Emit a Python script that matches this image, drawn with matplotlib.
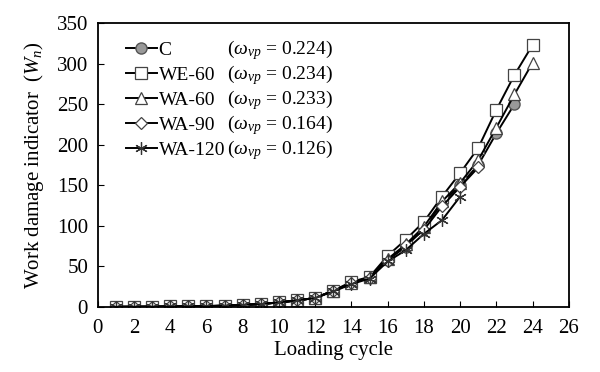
from matplotlib import pyplot as plt
import numpy as np

plt.rcParams['font.family'] = ['Liberation Serif', 'DejaVu Serif']
plt.rcParams['mathtext.fontset'] = 'custom'
plt.rcParams['mathtext.rm'] = 'Liberation Serif'
plt.rcParams['mathtext.it'] = 'Liberation Serif:italic'

# loading cycles per specimen
cycles_c = np.arange(1, 24)
cycles_we60 = np.arange(1, 25)
cycles_wa60 = np.arange(1, 25)
cycles_wa90 = np.arange(1, 22)
cycles_wa120 = np.arange(1, 21)

early = [0.1, 0.2, 0.3, 0.5, 0.7, 1.0, 1.5, 2.5, 3.5, 5.5, 8.0, 11.0]

wn_c = early + [20, 29, 37, 58, 74, 97, 128, 150, 175, 214, 250]
wn_we60 = early + [20, 31, 37, 63, 83, 105, 136, 165, 196, 243, 286, 323]
wn_wa60 = early + [20, 29, 37, 59, 77, 99, 130, 153, 181, 221, 262, 301]
wn_wa90 = early + [20, 29, 36, 57, 76, 95, 124, 148, 172]
wn_wa120 = early + [19, 28, 35, 56, 70, 90, 107, 136]

names = ['C', 'WE-60', 'WA-60', 'WA-90', 'WA-120']
omega = ['0.224', '0.234', '0.233', '0.164', '0.126']

fig = plt.figure(figsize=(6, 3.72), dpi=100)
ax = fig.add_axes([0.163, 0.175, 0.785, 0.763])

lw = 1.4
h1, = ax.plot(cycles_c, wn_c, color='black', lw=lw, marker='o', ms=8,
              mfc='#999999', mec='#555555')
h2, = ax.plot(cycles_we60, wn_we60, color='black', lw=lw, marker='s', ms=8.5,
              mfc='white', mec='#444444', mew=0.9)
h3, = ax.plot(cycles_wa60, wn_wa60, color='black', lw=lw, marker='^', ms=9,
              mfc='white', mec='#444444', mew=0.9)
h4, = ax.plot(cycles_wa90, wn_wa90, color='black', lw=lw, marker='D', ms=6.5,
              mfc='white', mec='#444444', mew=0.9)
h5, = ax.plot(cycles_wa120, wn_wa120, color='black', lw=lw, marker=(6, 2, 0), ms=9,
              mec='#333333', mew=0.9)

ax.set_xlim(0, 26)
ax.set_ylim(0, 350)
ax.set_xticks(np.arange(0, 27, 2))
ax.set_yticks(np.arange(0, 351, 50))
ax.tick_params(direction='in', labelsize=15, length=4)
ax.tick_params(axis='x', pad=9)
ax.tick_params(axis='y', pad=7)
for s in ax.spines.values():
    s.set_linewidth(1.3)

ax.set_xlabel('Loading cycle', fontsize=15, labelpad=2)
ax.set_ylabel('Work damage indicator  $(W_n)$', fontsize=15, labelpad=8)

leg = ax.legend([h1, h2, h3, h4, h5], names, loc='upper left',
                bbox_to_anchor=(0.03, 0.985), frameon=False, fontsize=14,
                handlelength=1.6, handletextpad=0.1, labelspacing=0.38,
                borderpad=0.2)

fig.canvas.draw()
inv = ax.transAxes.inverted()
texts = leg.get_texts()
col_x = max(t.get_window_extent().x1 for t in texts[:4]) + 12
for t, w in zip(texts, omega):
    bb = t.get_window_extent()
    x0 = max(col_x, bb.x1 + 2)
    xa, yc = inv.transform((x0, (bb.y0 + bb.y1) / 2))
    ax.text(xa, yc, r'$(\omega_{vp}$ = ' + w + ')', transform=ax.transAxes,
            fontsize=14, va='center', ha='left')

fig.savefig('out.png', dpi=100)
